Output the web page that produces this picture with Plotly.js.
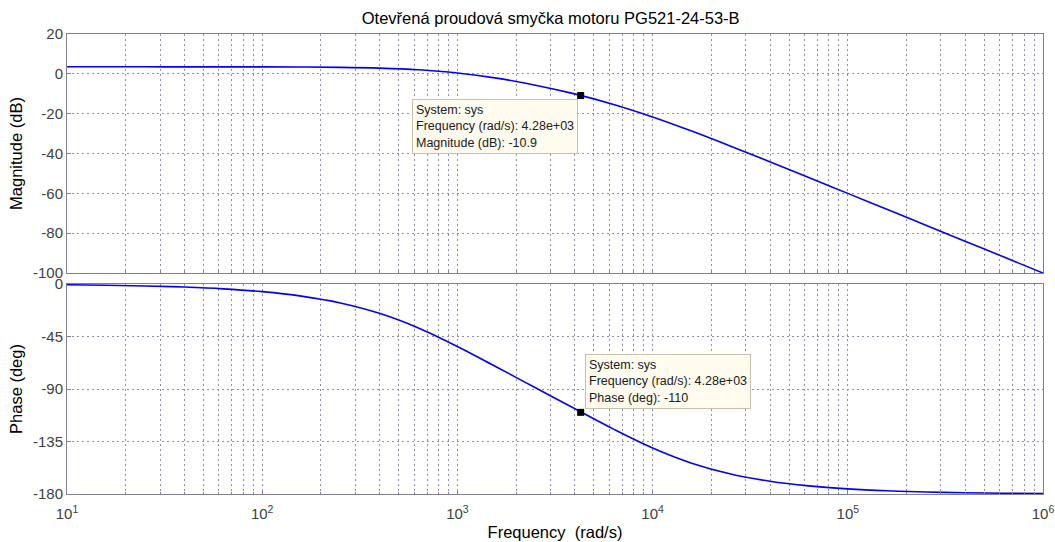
<!DOCTYPE html>
<html>
<head>
<meta charset="utf-8">
<script src="https://cdn.plot.ly/plotly-3.0.1.min.js"></script>
<style>html,body{margin:0;padding:0;background:#fff;}#chart{width:1055px;height:542px;}</style>
</head>
<body>
<div id="chart"></div>
<script>
// Frequency samples (rad/s)
const freq = [10, 15.85, 25.12, 39.81, 63.1, 100, 158.5, 251.2, 398.1, 631, 1000, 1585, 2512, 3981, 6310, 10000, 15849, 25119, 39811, 63096, 100000, 158489, 251189, 398107, 630957, 1000000];
// Magnitude (dB)
const magDb = [3.52, 3.52, 3.52, 3.51, 3.50, 3.48, 3.41, 3.25, 2.87, 2.03, 0.41, -2.17, -5.70, -10.07, -15.37, -21.64, -28.73, -36.30, -44.12, -52.05, -60.02, -68.01, -76.00, -84.00, -92.00, -100.00];
// Phase (deg)
const phaseDeg = [-0.66, -1.04, -1.65, -2.62, -4.15, -6.57, -10.37, -16.26, -25.13, -37.65, -53.53, -71.13, -88.92, -106.73, -124.41, -140.59, -153.57, -162.85, -169.05, -173.06, -175.61, -177.23, -178.25, -178.90, -179.30, -179.56];
// Data tip
const tipFreq = [4280];
const tipMag = [-10.9];
const tipPhase = [-110];
const magTicks = [20, 0, -20, -40, -60, -80, -100];
const magTickText = ['20', '0', '-20', '-40', '-60', '-80', '-100'];
const phaseTicks = [0, -45, -90, -135, -180];
const phaseTickText = ['0', '-45', '-90', '-135', '-180'];
const freqTicks = [10, 100, 1000, 10000, 100000, 1000000];
const freqTickText = ['10<sup>1</sup>', '10<sup>2</sup>', '10<sup>3</sup>', '10<sup>4</sup>', '10<sup>5</sup>', '10<sup>6</sup>'];

const FONT = 'Liberation Sans, Arial, sans-serif';
const gridCol = '#9090a4';
const axCol = '#7f7f96';
const tickFont = {family: FONT, size: 15, color: '#404040'};
const axisBase = {
  showline: true, mirror: true, linecolor: axCol, linewidth: 1,
  showgrid: true, gridcolor: gridCol, griddash: '2px,3px', gridwidth: 1,
  zeroline: false, ticks: 'inside', ticklen: 4, tickcolor: axCol, tickfont: tickFont
};
const xBase = Object.assign({}, axisBase, {
  type: 'log', range: [1, 6], tickmode: 'array', tickvals: freqTicks, ticktext: freqTickText,
  minor: {dtick: 'D1', showgrid: true, gridcolor: gridCol, griddash: '2px,3px', ticks: 'inside', ticklen: 2, tickcolor: axCol}
});

const traces = [
  {x: freq, y: magDb, xaxis: 'x', yaxis: 'y', mode: 'lines', line: {color: '#0000ff', width: 1.6, shape: 'spline'}, hoverinfo: 'skip'},
  {x: freq, y: phaseDeg, xaxis: 'x2', yaxis: 'y2', mode: 'lines', line: {color: '#0000ff', width: 1.6, shape: 'spline'}, hoverinfo: 'skip'},
  {x: tipFreq, y: tipMag, xaxis: 'x', yaxis: 'y', mode: 'markers', marker: {symbol: 'square', size: 7, color: '#000'}},
  {x: tipFreq, y: tipPhase, xaxis: 'x2', yaxis: 'y2', mode: 'markers', marker: {symbol: 'square', size: 7, color: '#000'}}
];

const annFont = {family: FONT, size: 12.5, color: '#202020'};
const titleFont = {family: FONT, size: 16.5, color: '#000'};
const layout = {
  width: 1055, height: 542,
  margin: {l: 67, r: 12, t: 34, b: 48},
  paper_bgcolor: '#ffffff', plot_bgcolor: '#ffffff',
  showlegend: false,
  title: {text: 'Otevřená proudová smyčka motoru PG521-24-53-B', x: 0.522, xanchor: 'center', y: 0.966, yanchor: 'middle',
          font: {family: FONT, size: 16.5, color: '#000'}},
  xaxis: Object.assign({}, xBase, {anchor: 'y', showticklabels: false, matches: 'x2'}),
  yaxis: Object.assign({}, axisBase, {domain: [0.4804, 1], range: [-100, 20], tickmode: 'array', tickvals: magTicks, ticktext: magTickText,
          title: {text: 'Magnitude (dB)', font: titleFont, standoff: 6}}),
  xaxis2: Object.assign({}, xBase, {anchor: 'y2', ticklabelstandoff: 6,
          title: {text: 'Frequency  (rad/s)', font: titleFont, standoff: 5}}),
  yaxis2: Object.assign({}, axisBase, {domain: [0, 0.4565], range: [-180, 0], tickmode: 'array', tickvals: phaseTicks, ticktext: phaseTickText,
          title: {text: 'Phase (deg)', font: titleFont, standoff: 6}}),
  annotations: [
    {xref: 'x', yref: 'y', x: Math.log10(tipFreq[0]), y: tipMag[0], showarrow: false, xanchor: 'right', yanchor: 'top',
     xshift: -3, yshift: -3, align: 'left', bgcolor: '#fffbee', bordercolor: '#c8c0a8', borderwidth: 1, borderpad: 3,
     text: 'System: sys<br>Frequency (rad/s): 4.28e+03<br>Magnitude (dB): -10.9', font: annFont},
    {xref: 'x2', yref: 'y2', x: Math.log10(tipFreq[0]), y: tipPhase[0], showarrow: false, xanchor: 'left', yanchor: 'bottom',
     xshift: 4, yshift: 3, align: 'left', bgcolor: '#fffbee', bordercolor: '#c8c0a8', borderwidth: 1, borderpad: 3,
     text: 'System: sys<br>Frequency (rad/s): 4.28e+03<br>Phase (deg): -110', font: annFont}
  ]
};

Plotly.newPlot('chart', traces, layout, {displayModeBar: false, staticPlot: true});
</script>
</body>
</html>
